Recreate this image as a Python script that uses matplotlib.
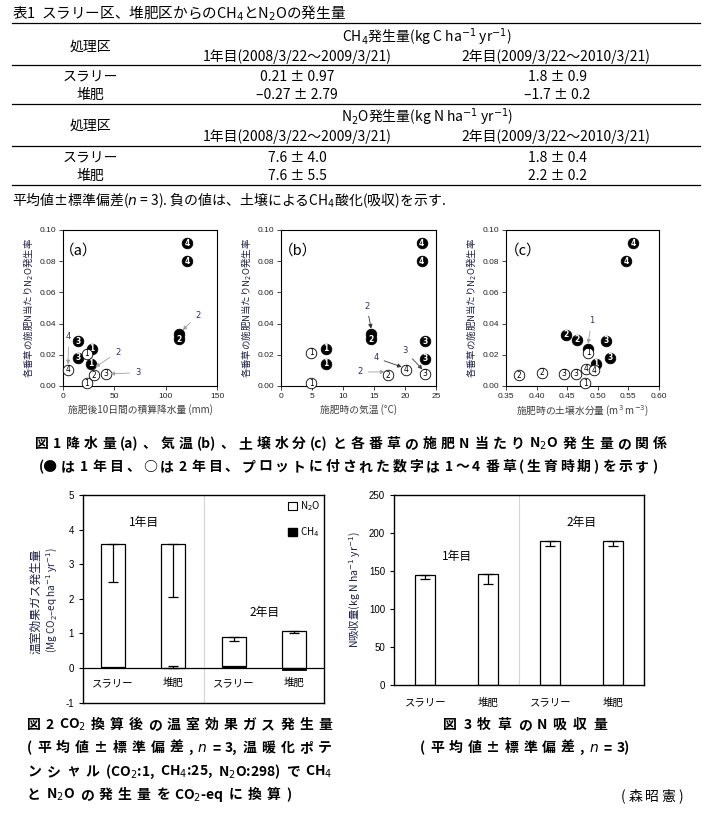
import numpy as np
import matplotlib
matplotlib.use('Agg')
import matplotlib.pyplot as plt
from matplotlib.patches import Patch
from matplotlib.lines import Line2D

plt.rcParams['font.family'] = ['Noto Sans CJK JP', 'DejaVu Sans']
plt.rcParams['axes.unicode_minus'] = False
plt.rcParams['mathtext.fontset'] = 'dejavusans'

W, H = 705, 816
NAVY = '#202048'

# ---- table 1 ----
tab_rows = ['スラリー', '堆肥']
ch4_y1 = ['0.21 ± 0.97', '–0.27 ± 2.79']
ch4_y2 = ['1.8 ± 0.9', '–1.7 ± 0.2']
n2o_y1 = ['7.6 ± 4.0', '7.6 ± 5.5']
n2o_y2 = ['1.8 ± 0.4', '2.2 ± 0.2']

# ---- fig 1 scatter (f = 1st year filled, o = 2nd year open) ----
pa_fx = [120.8, 120.8, 112.7, 112.7, 14.3, 28.2, 14.3, 27.3]
pa_fy = [0.0914, 0.080, 0.0336, 0.030, 0.0287, 0.024, 0.018, 0.0143]
pa_fn = ['4', '4', '', '2', '3', '1', '3', '1']
pa_ox = [23.4, 4.9, 29.9, 42.2, 23.4]
pa_oy = [0.0208, 0.0105, 0.0069, 0.0077, 0.0019]
pa_on = ['1', '4', '2', '3', '1']

pb_fx = [22.7, 22.7, 14.5, 14.5, 7.2, 7.2, 23.3, 23.3]
pb_fy = [0.0914, 0.080, 0.0336, 0.030, 0.024, 0.0143, 0.0287, 0.0176]
pb_fn = ['4', '4', '', '2', '1', '1', '3', '3']
pb_ox = [4.9, 4.9, 17.3, 20.2, 23.2]
pb_oy = [0.0212, 0.0019, 0.0069, 0.0105, 0.0079]
pb_on = ['1', '1', '2', '4', '3']

pc_fx = [0.5576, 0.5467, 0.4473, 0.4663, 0.5141, 0.5207, 0.4832, 0.4967]
pc_fy = [0.0914, 0.080, 0.033, 0.0298, 0.0289, 0.018, 0.024, 0.0143]
pc_fn = ['4', '4', '2', '2', '3', '3', '', '1']
pc_ox = [0.4848, 0.4815, 0.4935, 0.4446, 0.4641, 0.3717, 0.4082, 0.4793]
pc_oy = [0.0212, 0.0111, 0.010, 0.0079, 0.0079, 0.0069, 0.0084, 0.0019]
pc_on = ['1', '4', '4', '3', '3', '2', '2', '1']

# arrows: label, label x, label y, head x, head y, colour
pa_arrows = [('2', 131.2, 0.0454, 116.6, 0.0358, '#a0a0a0'),
             ('2', 53.2, 0.0216, 31.5, 0.0122, '#a0a0a0'),
             ('3', 72.7, 0.0084, 46.1, 0.0079, '#a0a0a0'),
             ('4', 5.5, 0.0315, 4.9, 0.0139, '#a0a0a0')]
pb_arrows = [('2', 13.84, 0.0512, 14.54, 0.0368, '#303030'),
             ('2', 12.77, 0.0090, 16.7, 0.0090, '#a0a0a0'),
             ('4', 15.34, 0.0180, 19.47, 0.0122, '#303030'),
             ('3', 20.0, 0.0225, 22.8, 0.0107, '#404040')]
pc_arrows = [('1', 0.4897, 0.0418, 0.4842, 0.0272, '#a0a0a0')]

# ---- fig 2 ----
bar_cats = ['スラリー', '堆肥', 'スラリー', '堆肥']
ghg_n2o = [3.56, 3.57, 0.83, 1.06]
ghg_ch4 = [0.02, -0.01, 0.07, -0.06]
ghg_low = [2.50, 2.06, 0.77, 1.00]

# ---- fig 3 ----
nup = [145.0, 146.5, 190.0, 189.0]
nup_low = [140.0, 132.5, 182.5, 183.5]

fig = plt.figure(figsize=(W / 100, H / 100), dpi=100)


def add_ax(l, t, r, b):
    return fig.add_axes([l / W, 1 - b / H, (r - l) / W, (b - t) / H])


def ftext(x, y, s, **kw):
    kw.setdefault('va', 'center')
    return fig.text(x / W, 1 - y / H, s, **kw)


def hline(y, x0=12, x1=700):
    fig.add_artist(Line2D([x0 / W, x1 / W], [1 - y / H, 1 - y / H],
                          color='black', lw=0.9))


def spaced(x, y, s, size, width, ha='left', **kw):
    # split into CJK chars and latin runs, then spread them to the width
    toks = []
    run = ''
    for ch in s:
        if ch == ' ' or ord(ch) >= 0x2E80:
            if run:
                toks.append(run)
                run = ''
            toks.append(ch)
        else:
            run += ch
    if run:
        toks.append(run)
    r = fig.canvas.get_renderer()
    ws = []
    for tk in toks:
        if tk == ' ':
            ws.append(size * 100 / 72 * 0.35)
            continue
        t = fig.text(0, 0, tk, fontsize=size, **kw)
        ws.append(t.get_window_extent(r).width)
        t.remove()
    pairs = [i for i in range(len(toks) - 1)
             if toks[i] != ' ' and toks[i + 1] != ' ']
    gap = (width - sum(ws)) / max(len(pairs), 1)
    cx = x - width / 2 if ha == 'center' else x
    for i, (tk, w) in enumerate(zip(toks, ws)):
        if tk != ' ':
            ftext(cx, y, tk, fontsize=size, ha='left', **kw)
        cx += w
        if i in pairs:
            cx += gap


# ---------------- table ----------------
ftext(12, 13, '表1  スラリー区、堆肥区からのCH$_4$とN$_2$Oの発生量', fontsize=10.5)
for y in [23, 65, 104, 146, 185]:
    hline(y)
ts = 10
ftext(90, 47, '処理区', fontsize=ts, ha='center')
ftext(427, 37, 'CH$_4$発生量(kg C ha$^{-1}$ yr$^{-1}$)', fontsize=ts, ha='center')
ftext(297, 57, '1年目(2008/3/22〜2009/3/21)', fontsize=ts, ha='center')
ftext(556, 57, '2年目(2009/3/22〜2010/3/21)', fontsize=ts, ha='center')
for i, y in enumerate([77, 95]):
    ftext(90, y, tab_rows[i], fontsize=ts, ha='center')
    ftext(297, y, ch4_y1[i], fontsize=ts, ha='center')
    ftext(557, y, ch4_y2[i], fontsize=ts, ha='center')
ftext(90, 126, '処理区', fontsize=ts, ha='center')
ftext(427, 117, 'N$_2$O発生量(kg N ha$^{-1}$ yr$^{-1}$)', fontsize=ts, ha='center')
ftext(297, 137, '1年目(2008/3/22〜2009/3/21)', fontsize=ts, ha='center')
ftext(556, 137, '2年目(2009/3/22〜2010/3/21)', fontsize=ts, ha='center')
for i, y in enumerate([158, 176]):
    ftext(90, y, tab_rows[i], fontsize=ts, ha='center')
    ftext(297, y, n2o_y1[i], fontsize=ts, ha='center')
    ftext(557, y, n2o_y2[i], fontsize=ts, ha='center')
ftext(12, 200, '平均値±標準偏差($n$ = 3). 負の値は、土壌によるCH$_4$酸化(吸収)を示す.',
      fontsize=ts)


# ---------------- fig 1 ----------------
def scatter_panel(ax, fx, fy, fn, ox, oy, on, arrows):
    ax.scatter(fx, fy, s=58, c='black', edgecolors='black', lw=0.6, zorder=3,
               clip_on=False)
    for x, y, n in zip(fx, fy, fn):
        ax.text(x, y, n, color='white', fontsize=5.5, fontweight='bold',
                ha='center', va='center', zorder=4, family='DejaVu Sans')
    ax.scatter(ox, oy, s=58, c='white', edgecolors='black', lw=0.6, zorder=5,
               clip_on=False)
    for x, y, n in zip(ox, oy, on):
        ax.text(x, y, n, color='black', fontsize=5.5,
                ha='center', va='center', zorder=6, family='DejaVu Sans')
    for lab, lx, ly, hx, hy, col in arrows:
        ax.annotate(lab, xy=(hx, hy), xytext=(lx, ly), fontsize=6,
                    color='#303060', ha='center', va='center',
                    family='DejaVu Sans', zorder=7,
                    arrowprops=dict(arrowstyle='-|>', color=col, lw=0.6,
                                    mutation_scale=6, shrinkA=2, shrinkB=0))
    ax.set_ylim(0, 0.1)
    ax.set_yticks(np.arange(0, 0.101, 0.02))
    ax.yaxis.set_major_formatter(matplotlib.ticker.FormatStrFormatter('%.2f'))
    ax.tick_params(labelsize=6, length=3, width=0.6, colors='#222222',
                   labelfontfamily='Liberation Sans', pad=2)
    for sp in ax.spines.values():
        sp.set_linewidth(0.8)
    ax.set_ylabel('各番草の施肥N当たりN$_2$O発生率', fontsize=6.8, color=NAVY,
                  labelpad=3)


axa = add_ax(63, 230, 217, 386)
scatter_panel(axa, pa_fx, pa_fy, pa_fn, pa_ox, pa_oy, pa_on, pa_arrows)
axa.set_xlim(0, 150)
axa.set_xticks([0, 50, 100, 150])
axa.set_xlabel('施肥後10日間の積算降水量 (mm)', fontsize=7, color='#404040', labelpad=3)
axa.text(0.1, 0.87, '（a）', transform=axa.transAxes, fontsize=10.5, ha='center',
         va='center')

axb = add_ax(281, 230, 436, 386)
scatter_panel(axb, pb_fx, pb_fy, pb_fn, pb_ox, pb_oy, pb_on, pb_arrows)
axb.set_xlim(0, 25)
axb.set_xticks([0, 5, 10, 15, 20, 25])
axb.set_xlabel('施肥時の気温 (°C)', fontsize=7, color='#404040', labelpad=3)
axb.text(0.11, 0.87, '（b）', transform=axb.transAxes, fontsize=10.5, ha='center',
         va='center')

axc = add_ax(506, 230, 659, 386)
scatter_panel(axc, pc_fx, pc_fy, pc_fn, pc_ox, pc_oy, pc_on, pc_arrows)
axc.set_xlim(0.35, 0.60)
axc.set_xticks([0.35, 0.40, 0.45, 0.50, 0.55, 0.60])
axc.xaxis.set_major_formatter(matplotlib.ticker.FormatStrFormatter('%.2f'))
axc.set_xlabel('施肥時の土壌水分量 (m$^3$ m$^{-3}$)', fontsize=7, color='#404040',
               labelpad=3)
axc.text(0.11, 0.87, '（c）', transform=axc.transAxes, fontsize=10.5, ha='center',
         va='center')

cap = dict(fontweight='bold')
spaced(351, 444, '図1 降水量(a)、気温(b)、土壌水分(c)と各番草の施肥 N 当たり N$_2$O 発生量の関係',
       10, 632, ha='center', **cap)
spaced(348, 467, '(●は 1 年目、○は 2 年目、プロットに付された数字は 1〜4 番草(生育時期)を示す)',
       10, 618, ha='center', **cap)

# ---------------- fig 2 ----------------
ax2 = add_ax(83, 495, 324, 702.6)
x = np.arange(len(bar_cats))
ch4 = np.array(ghg_ch4)
n2o = np.array(ghg_n2o)
top = n2o + np.maximum(ch4, 0)
ax2.axvline(1.5, color='#d4d4d4', lw=0.8, zorder=0)
ax2.bar(x, n2o, bottom=np.maximum(ch4, 0), width=0.4, color='white',
        edgecolor='black', lw=0.9, zorder=2)
ax2.bar(x, ch4, width=0.4, color='black', edgecolor='black', lw=0.6, zorder=2)
ax2.errorbar(x, top, yerr=[top - np.array(ghg_low), np.zeros(4)], fmt='none',
             ecolor='black', elinewidth=0.9, capsize=3.5, capthick=0.9, zorder=3)
ax2.errorbar([1], [ch4[1]], yerr=[[0], [0.07]], fmt='none', ecolor='black',
             elinewidth=0.9, capsize=3.5, capthick=0.9, zorder=3)
ax2.axhline(0, color='black', lw=0.9, zorder=4)
ax2.set_xlim(-0.5, 3.5)
ax2.set_ylim(-1, 5)
ax2.set_yticks(range(-1, 6))
ax2.set_xticks([])
ax2.tick_params(labelsize=7, length=3, width=0.8, labelfontfamily='Liberation Sans')
for sp in ax2.spines.values():
    sp.set_linewidth(1.0)
for xi, c in zip(x, bar_cats):
    ax2.text(xi, -0.43, c, fontsize=7.5, ha='center', va='center')
ax2.text(0.52, 4.2, '1年目', fontsize=8.5, ha='center', va='center')
ax2.text(2.52, 1.59, '2年目', fontsize=8.5, ha='center', va='center')
handles = [Patch(facecolor='white', edgecolor='black', lw=0.8, label='N$_2$O'),
           Patch(facecolor='black', edgecolor='black', label='CH$_4$')]
ax2.legend(handles=handles, loc='upper right', bbox_to_anchor=(320 / W, 1 - 499 / H),
           bbox_transform=fig.transFigure, frameon=False, fontsize=7,
           labelspacing=1.3, handlelength=0.9, handleheight=0.9,
           handletextpad=0.3, borderaxespad=0, borderpad=0)
ftext(36, 601, '温室効果ガス発生量', fontsize=8.5, rotation=90, ha='center',
      color=NAVY)
ftext(52, 600, '(Mg CO$_2$–eq ha$^{-1}$ yr$^{-1}$)', fontsize=7.2, rotation=90,
      ha='center', color=NAVY)

spaced(27, 725, '図2 CO$_2$ 換算後の温室効果ガス発生量', 10, 305, **cap)
spaced(27, 748, '(平均値±標準偏差, $n$ = 3, 温暖化ポテ', 10, 305, **cap)
spaced(27, 772, 'ンシャル(CO$_2$:1, CH$_4$:25, N$_2$O:298)で CH$_4$', 10, 305, **cap)
spaced(27, 795, 'と N$_2$O の発生量を CO$_2$-eq に換算)', 10, 264, **cap)

# ---------------- fig 3 ----------------
ax3 = add_ax(394, 495, 644, 685)
x3 = np.arange(len(bar_cats))
nup_a = np.array(nup)
ax3.axvline(1.5, color='#d4d4d4', lw=0.8, zorder=0)
ax3.bar(x3, nup_a, width=0.32, color='white', edgecolor='black', lw=0.9, zorder=2)
ax3.errorbar(x3, nup_a, yerr=[nup_a - np.array(nup_low), np.zeros(4)], fmt='none',
             ecolor='black', elinewidth=0.9, capsize=3.5, capthick=0.9, zorder=3)
ax3.set_xlim(-0.5, 3.5)
ax3.set_ylim(0, 250)
ax3.set_yticks(range(0, 251, 50))
ax3.set_xticks(x3)
ax3.set_xticklabels(bar_cats, fontsize=7.5)
ax3.tick_params(axis='x', length=0, pad=9)
ax3.tick_params(axis='y', labelsize=7, length=3, width=0.8,
                labelfontfamily='Liberation Sans')
for sp in ax3.spines.values():
    sp.set_linewidth(1.0)
ax3.text(0.51, 169, '1年目', fontsize=8.5, ha='center', va='center')
ax3.text(2.5, 214, '2年目', fontsize=8.5, ha='center', va='center')
ftext(355, 590, 'N吸収量(kg N ha$^{-1}$ yr$^{-1}$)', fontsize=7.5, rotation=90,
      ha='center', color=NAVY)

spaced(525, 725, '図3 牧草の N 吸収量', 10, 164, ha='center', **cap)
spaced(525, 748, '(平均値±標準偏差, $n$ = 3)', 10, 210, ha='center', **cap)
spaced(683 - 62, 797, '(森昭憲)', 10, 62)

fig.savefig('out.png', dpi=100)
